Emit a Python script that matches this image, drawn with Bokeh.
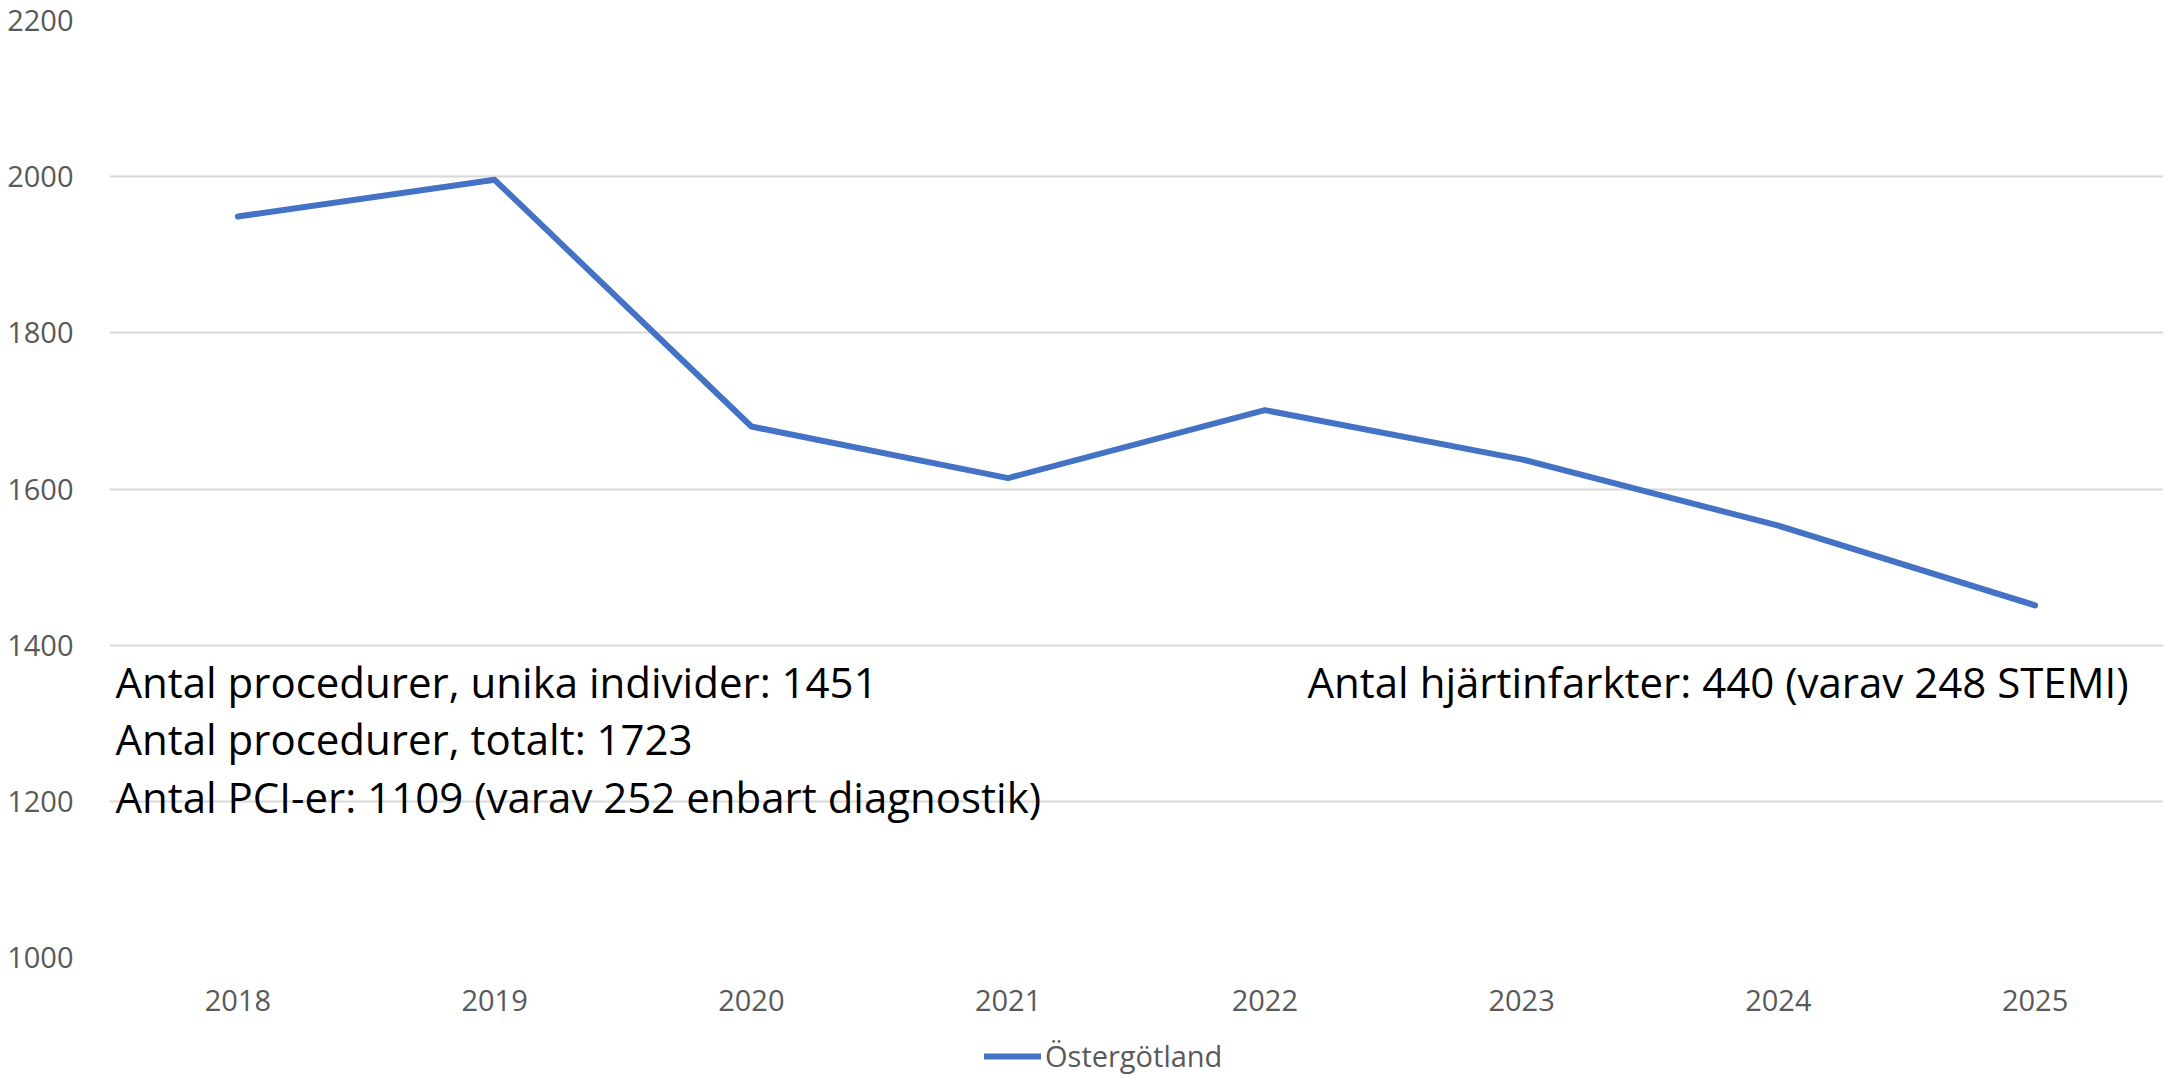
from bokeh.plotting import figure
from bokeh.layouts import column
from bokeh.models import FactorRange, Range1d, FixedTicker, Label, Legend, LegendItem, ColumnDataSource
from bokeh.embed import file_html
from bokeh.resources import INLINE

years = ["2018", "2019", "2020", "2021", "2022", "2023", "2024", "2025"]
values = [1949, 1996, 1680, 1614, 1701, 1638, 1553, 1451]
series_name = "Östergötland"
y_ticks = [1000, 1200, 1400, 1600, 1800, 2000, 2200]
left_notes = [
    "Antal procedurer, unika individer: 1451",
    "Antal procedurer, totalt: 1723",
    "Antal PCI-er: 1109 (varav 252 enbart diagnostik)",
]
right_note = "Antal hjärtinfarkter: 440 (varav 248 STEMI)"

FONT = "Open Sans"
TICK_COLOR = "#595959"
LINE_COLOR = "#4472C4"

p = figure(width=2177, height=1030, frame_width=2054, frame_height=937,
           x_range=FactorRange(*years), y_range=Range1d(1000, 2200),
           output_backend="svg", toolbar_location=None,
           min_border_left=109, min_border_right=14, min_border_top=20, min_border_bottom=73)
p.outline_line_color = None
p.background_fill_color = "white"
p.border_fill_color = "white"

p.yaxis.ticker = FixedTicker(ticks=y_ticks)
for ax in (p.xaxis[0], p.yaxis[0]):
    ax.axis_line_color = None
    ax.major_tick_line_color = None
    ax.minor_tick_line_color = None
    ax.major_label_text_font = FONT
    ax.major_label_text_font_size = "29px"
    ax.major_label_text_color = TICK_COLOR
p.yaxis.major_label_standoff = 30
p.xaxis.major_label_standoff = 26

p.xgrid.grid_line_color = None
p.ygrid.grid_line_color = "#d9d9d9"
p.ygrid.grid_line_width = 2

src = ColumnDataSource(dict(x=years, y=values))
p.line("x", "y", source=src, line_color=LINE_COLOR, line_width=6,
       line_cap="round", line_join="round")

note_y = [1354, 1281, 1206]
for txt, yy in zip(left_notes, note_y):
    p.add_layout(Label(x=0.023, y=yy, text=txt, text_font=FONT, text_font_size="42px",
                       text_color="black", text_baseline="alphabetic", text_align="left"))
p.add_layout(Label(x=7.864, y=note_y[0], text=right_note, text_font=FONT, text_font_size="42px",
                   text_color="black", text_baseline="alphabetic", text_align="right"))

# legend strip below the chart (series drawn out of its visible range, only the key shows)
lp = figure(width=2177, height=47, x_range=FactorRange(*years), y_range=Range1d(0, 1),
            output_backend="svg", toolbar_location=None,
            min_border_left=0, min_border_right=0, min_border_top=0, min_border_bottom=0)
lp.outline_line_color = None
lp.axis.visible = False
lp.grid.visible = False
lr = lp.line("x", "y", source=src, line_color=LINE_COLOR, line_width=6, line_cap="round")
legend = Legend(items=[LegendItem(label=series_name, renderers=[lr])],
                location=(875, 2), orientation="horizontal",
                border_line_color=None, background_fill_alpha=0,
                padding=0, margin=0, spacing=0,
                glyph_width=57, glyph_height=30, label_height=30, label_standoff=4,
                label_text_font=FONT, label_text_font_size="29px",
                label_text_color=TICK_COLOR)
lp.add_layout(legend, "center")

open("out.html", "w").write(file_html(column(p, lp, spacing=0), INLINE))
